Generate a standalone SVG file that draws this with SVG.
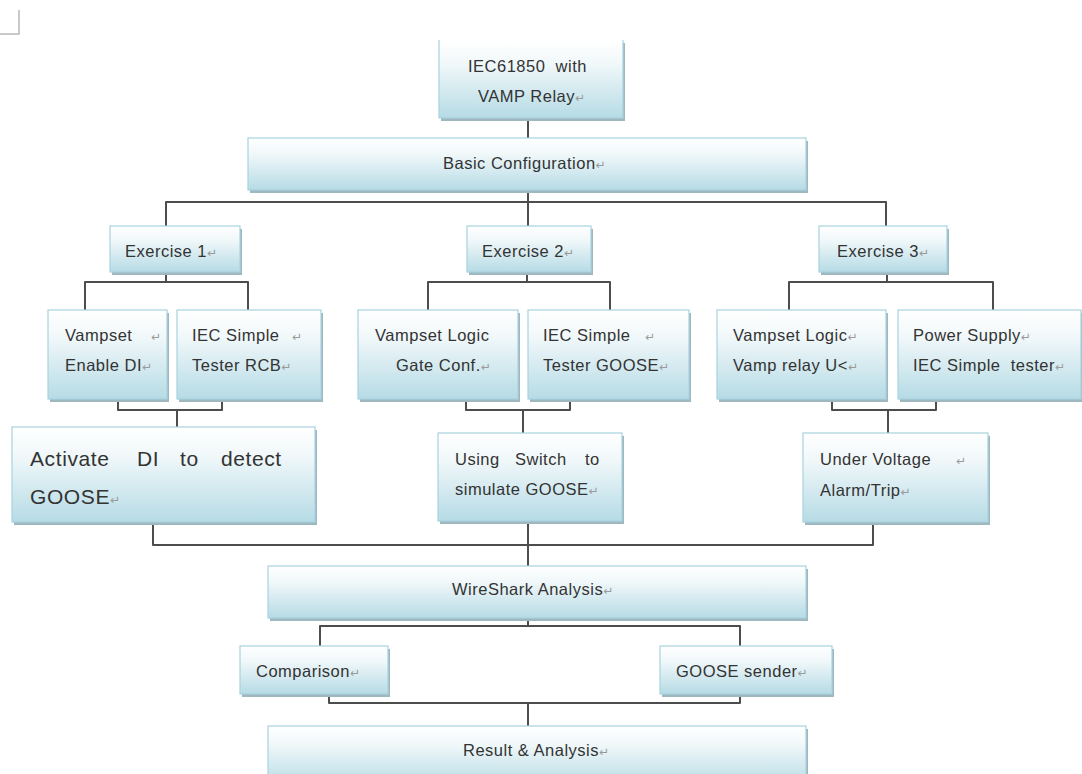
<svg xmlns="http://www.w3.org/2000/svg" width="1082" height="774" viewBox="0 0 1082 774">
<defs>
<linearGradient id="g" x1="0" y1="0" x2="0" y2="1">
<stop offset="0" stop-color="#ffffff"/>
<stop offset="0.3" stop-color="#f1f8fa"/>
<stop offset="1" stop-color="#b6dbe5"/>
</linearGradient>
<style>
.box{fill:url(#g);stroke:#a8d3df;stroke-width:1.2}
.sh{fill:#9fb8c0}
.t{font-family:"Liberation Sans",Arial,sans-serif;font-size:16.5px;letter-spacing:0.5px;fill:#333333;white-space:pre}
.big{font-size:21px;letter-spacing:0.6px}
.m{font-family:"DejaVu Sans",sans-serif;font-size:12px;fill:#9a9a9a;letter-spacing:0}
.c{fill:none;stroke:#4d4d4d;stroke-width:2;stroke-linejoin:round}
</style>
</defs>
<rect width="1082" height="774" fill="#ffffff"/>
<path d="M0,34 H19 V10" fill="none" stroke="#b8b8b8" stroke-width="1.5"/>

<g id="connectors" class="c">
<path d="M528,118 V139"/>
<path d="M528,190 V226"/>
<path d="M166,226 V202 H886 V226"/>
<path d="M166,272 V282"/>
<path d="M85,310 V282 H248 V310"/>
<path d="M527,272 V282"/>
<path d="M428,310 V282 H610 V310"/>
<path d="M887,272 V282"/>
<path d="M789,310 V282 H993 V310"/>
<path d="M118,399 V410 H222 V399"/>
<path d="M177,410 V427"/>
<path d="M466,399 V410 H570 V399"/>
<path d="M523,410 V433"/>
<path d="M832,399 V410 H936 V399"/>
<path d="M888,410 V433"/>
<path d="M153,522 V545 H873 V522"/>
<path d="M528,521 V566"/>
<path d="M528,618 V626"/>
<path d="M320,646 V626 H740 V646"/>
<path d="M329,694 V703 H740 V694"/>
<path d="M528,703 V726"/>
</g>

<g id="n-top">
<rect class="sh" x="441" y="43" width="184" height="78"/>
<rect x="439" y="40" width="184" height="78" fill="url(#g)"/>
<path d="M439,40 V118 H623 V40" fill="none" stroke="#a8d3df" stroke-width="1.2"/>
<text class="t" x="468" y="72" xml:space="preserve">IEC61850  with</text>
<text class="t" x="478" y="102">VAMP Relay<tspan class="m">↵</tspan></text>
</g>

<g id="n-basic">
<rect class="sh" x="250" y="141" width="558" height="52"/>
<rect class="box" x="248" y="138" width="558" height="52"/>
<text class="t" x="443" y="169">Basic Configuration<tspan class="m">↵</tspan></text>
</g>

<g id="n-ex1">
<rect class="sh" x="112" y="229" width="130" height="46"/>
<rect class="box" x="110" y="226" width="130" height="46"/>
<text class="t" x="125" y="257">Exercise 1<tspan class="m">↵</tspan></text>
</g>
<g id="n-ex2">
<rect class="sh" x="469" y="229" width="124" height="46"/>
<rect class="box" x="467" y="226" width="124" height="46"/>
<text class="t" x="482" y="257">Exercise 2<tspan class="m">↵</tspan></text>
</g>
<g id="n-ex3">
<rect class="sh" x="821" y="229" width="128" height="46"/>
<rect class="box" x="819" y="226" width="128" height="46"/>
<text class="t" x="837" y="257">Exercise 3<tspan class="m">↵</tspan></text>
</g>

<g id="n-vampset">
<rect class="sh" x="50" y="313" width="119" height="89"/>
<rect class="box" x="48" y="310" width="119" height="89"/>
<text class="t" x="65" y="341">Vampset<tspan class="m" x="151">↵</tspan></text>
<text class="t" x="65" y="371">Enable DI<tspan class="m">↵</tspan></text>
</g>
<g id="n-rcb">
<rect class="sh" x="179" y="313" width="144" height="89"/>
<rect class="box" x="177" y="310" width="144" height="89"/>
<text class="t" x="192" y="341">IEC Simple<tspan class="m" x="292">↵</tspan></text>
<text class="t" x="192" y="371">Tester RCB<tspan class="m">↵</tspan></text>
</g>
<g id="n-logic">
<rect class="sh" x="360" y="313" width="160" height="89"/>
<rect class="box" x="358" y="310" width="160" height="89"/>
<text class="t" x="375" y="341">Vampset Logic</text>
<text class="t" x="396" y="371">Gate Conf.<tspan class="m">↵</tspan></text>
</g>
<g id="n-goose">
<rect class="sh" x="530" y="313" width="161" height="89"/>
<rect class="box" x="528" y="310" width="161" height="89"/>
<text class="t" x="543" y="341">IEC Simple<tspan class="m" x="645">↵</tspan></text>
<text class="t" x="543" y="371">Tester GOOSE<tspan class="m">↵</tspan></text>
</g>
<g id="n-logic3">
<rect class="sh" x="719" y="313" width="169" height="89"/>
<rect class="box" x="717" y="310" width="169" height="89"/>
<text class="t" x="733" y="341">Vampset Logic<tspan class="m">↵</tspan></text>
<text class="t" x="733" y="371">Vamp relay U&lt;<tspan class="m">↵</tspan></text>
</g>
<g id="n-power">
<rect class="sh" x="900" y="313" width="183" height="89"/>
<rect class="box" x="898" y="310" width="183" height="89"/>
<text class="t" x="913" y="341">Power Supply<tspan class="m">↵</tspan></text>
<text class="t" x="913" y="371" xml:space="preserve">IEC Simple  tester<tspan class="m">↵</tspan></text>
</g>

<g id="n-activate">
<rect class="sh" x="14" y="430" width="303" height="95"/>
<rect class="box" x="12" y="427" width="303" height="95"/>
<text class="t big" y="466"><tspan x="30">Activate</tspan><tspan x="137">DI</tspan><tspan x="180">to</tspan><tspan x="221">detect</tspan></text>
<text class="t big" x="30" y="504">GOOSE<tspan class="m">↵</tspan></text>
</g>
<g id="n-switch">
<rect class="sh" x="440" y="436" width="184" height="88"/>
<rect class="box" x="438" y="433" width="184" height="88"/>
<text class="t" y="465"><tspan x="455">Using</tspan><tspan x="515">Switch</tspan><tspan x="585">to</tspan></text>
<text class="t" x="455" y="495">simulate GOOSE<tspan class="m">↵</tspan></text>
</g>
<g id="n-uv">
<rect class="sh" x="805" y="436" width="185" height="89"/>
<rect class="box" x="803" y="433" width="185" height="89"/>
<text class="t" x="820" y="465">Under Voltage<tspan class="m" x="956">↵</tspan></text>
<text class="t" x="820" y="496">Alarm/Trip<tspan class="m">↵</tspan></text>
</g>

<g id="n-wireshark">
<rect class="sh" x="270" y="569" width="538" height="52"/>
<rect class="box" x="268" y="566" width="538" height="52"/>
<text class="t" x="452" y="595">WireShark Analysis<tspan class="m">↵</tspan></text>
</g>
<g id="n-comparison">
<rect class="sh" x="242" y="649" width="148" height="48"/>
<rect class="box" x="240" y="646" width="148" height="48"/>
<text class="t" x="256" y="677">Comparison<tspan class="m">↵</tspan></text>
</g>
<g id="n-sender">
<rect class="sh" x="662" y="649" width="172" height="48"/>
<rect class="box" x="660" y="646" width="172" height="48"/>
<text class="t" x="676" y="677">GOOSE sender<tspan class="m">↵</tspan></text>
</g>
<g id="n-result">
<rect class="sh" x="270" y="729" width="538" height="60"/>
<rect class="box" x="268" y="726" width="538" height="60"/>
<text class="t" x="463" y="756">Result &amp; Analysis<tspan class="m">↵</tspan></text>
</g>
</svg>
